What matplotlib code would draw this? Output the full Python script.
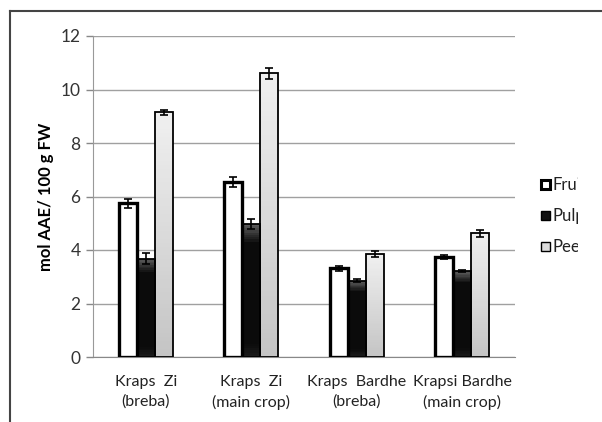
import matplotlib
matplotlib.use("Agg")
import matplotlib.pyplot as plt
import numpy as np
from matplotlib.patches import Rectangle
from matplotlib.lines import Line2D
from matplotlib.colors import LinearSegmentedColormap

categories = ["Kraps  Zi\n(breba)", "Kraps  Zi\n(main crop)", "Kraps  Bardhe\n(breba)", "Krapsi Bardhe\n(main crop)"]
series = ["Fruit", "Pulp", "Peel"]
fruit = [5.75, 6.55, 3.32, 3.75]
pulp = [3.68, 4.98, 2.85, 3.22]
peel = [9.15, 10.6, 3.85, 4.62]
fruit_err = [0.17, 0.18, 0.1, 0.08]
pulp_err = [0.2, 0.18, 0.05, 0.05]
peel_err = [0.1, 0.2, 0.12, 0.12]
yticks = [0, 2, 4, 6, 8, 10, 12]

plt.rcParams['font.family'] = ['Lato', 'DejaVu Sans']

fig = plt.figure(figsize=(6.02, 4.22), dpi=100)
ax = fig.add_axes([93/602, 1-357/422, 422/602, (357-36)/422])

x = np.arange(len(categories))
w = 0.17
vals = [fruit, pulp, peel]
errs = [fruit_err, pulp_err, peel_err]
offs = [-w, 0, w]

def grad_slices(xs, heights, cmap, n=60):
    # cmap(0) at bottom, cmap(1) at top
    for xc, h in zip(xs, heights):
        step = h / n
        for k in range(n):
            ax.bar(xc, step * 1.02, w, bottom=k * step, color=cmap((k + 0.5) / n),
                   linewidth=0, zorder=3.1)

pulp_cmap = LinearSegmentedColormap.from_list('p', [(0, '#1c1c1c'), (0.1, '#0b0b0b'), (0.86, '#0b0b0b'), (1.0, '#606060')])
peel_cmap = LinearSegmentedColormap.from_list('g', ['#c4c4c4', '#f0f0f0'])

for i, (v, e, o) in enumerate(zip(vals, errs, offs)):
    xs = x + o
    if i == 0:
        ax.bar(xs, v, w, color='white', edgecolor='black', linewidth=2.4, zorder=3.2)
    else:
        grad_slices(xs, v, pulp_cmap if i == 1 else peel_cmap)
        ax.bar(xs, v, w, fill=False, edgecolor='black', linewidth=1.3, zorder=3.2)
    ax.errorbar(xs, v, yerr=e, fmt='none', ecolor='black', elinewidth=1.2, capsize=3, capthick=1.2, zorder=4)

ax.set_xlim(-0.5, len(categories)-0.5)
ax.set_ylim(0, 12)
ax.set_yticks(yticks)
ax.set_yticklabels([str(t) for t in yticks], fontsize=12.5, color='#333333')
ax.set_xticks(x)
ax.set_xticklabels(categories, fontsize=11.5, color='#222222', linespacing=1.5)
ax.tick_params(axis='x', length=0, pad=13)
ax.tick_params(axis='y', length=5, width=1, color='#888888', pad=4)
ax.yaxis.grid(True, color='#a0a0a0', linewidth=1.0, zorder=0)
ax.set_axisbelow(True)
for s in ['top', 'right']:
    ax.spines[s].set_visible(False)
ax.spines['left'].set_color('#999999')
ax.spines['bottom'].set_color('#888888')
ax.set_ylabel('mol AAE/ 100 g FW', fontsize=12, fontweight='bold', labelpad=5)

# outer frame (top and left only visible)
fig.add_artist(Line2D([10/602, 1.0], [1-11/422, 1-11/422], color='#444444', linewidth=1.5))
fig.add_artist(Line2D([10/602, 10/602], [0, 1-11/422], color='#444444', linewidth=1.5))

# legend (clipped at right)
leg_y = [185, 216, 247]
styles = [dict(fc='white', ec='black', lw=2.2), dict(fc='#111111', ec='black', lw=1.0), dict(fc='#dddddd', ec='black', lw=1.0)]
clip = Rectangle((0, 0), 578/602, 1, transform=fig.transFigure)
for name, yy, st in zip(series, leg_y, styles):
    fig.add_artist(Rectangle((541/602, 1-(yy+4)/422), 9/602, 9/422, facecolor=st['fc'],
                             edgecolor=st['ec'], linewidth=st['lw'], transform=fig.transFigure))
    t = fig.text(553/602, 1-yy/422, name, fontsize=12, va='center', ha='left', color='#222222')
    t.set_clip_path(clip)
    t.set_clip_on(True)

fig.savefig('out.png', dpi=100)
